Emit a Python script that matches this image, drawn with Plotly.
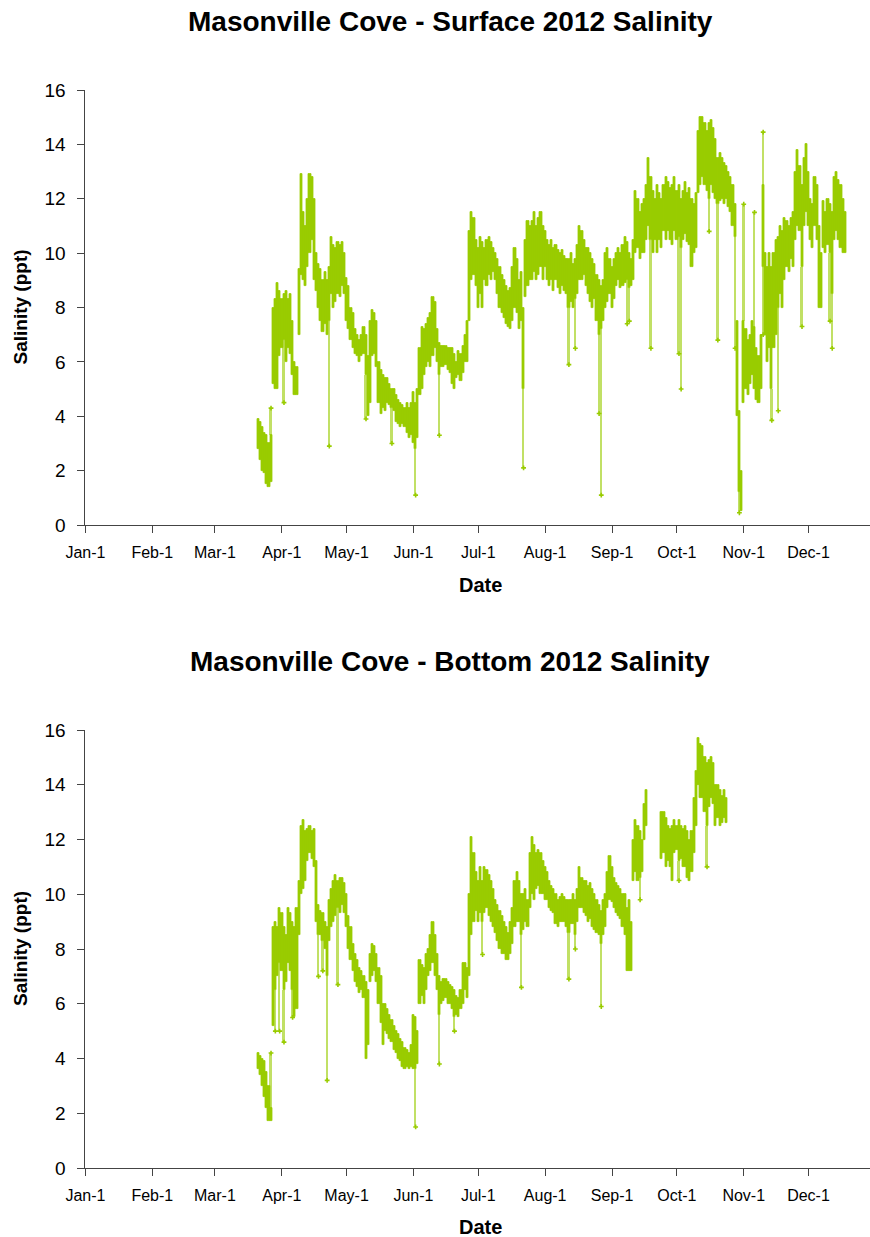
import pandas as pd
import plotly.graph_objects as go

GREEN = "#99CC00"
DAY_MS = 86400000
FONT = "Liberation Sans, Arial, sans-serif"

# ---- Surface sonde: daily band of 15-minute readings (ppt), from 2012-03-21
surface_start = "2012-03-21"
surface_low = [
    2.8, 2.4, 2.0, 1.9, 1.5, 1.4, 1.6, 5.2, 5.0, 5.0, 6.2,          # Mar 21-31
    6.5, 6.8, 6.0, 6.5, 6.3, 5.5, 4.8, 4.8, 7.0, 9.2,               # Apr 1-10
    9.0, 8.8, 9.5, 10.0, 10.5, 9.0, 8.6, 8.0, 7.5, 7.1,             # Apr 11-20
    7.4, 7.0, 7.5, 8.5, 8.0, 8.2, 8.5, 8.4, 8.8, 8.5, 7.5,          # Apr 21-May 1
    7.2, 6.8, 6.5, 6.3, 6.2, 6.0, 6.2, 6.3, 5.5, 4.0,               # May 2-11
    4.5, 6.2, 6.3, 5.8, 4.5, 4.1, 4.3, 4.2, 4.5, 4.4,               # May 12-21
    4.3, 4.2, 3.8, 3.7, 3.6, 3.7, 3.6, 3.4, 3.2, 3.3,               # May 22-31
    3.0, 2.8, 3.2, 4.8, 5.0, 5.5, 5.8, 6.0, 5.8, 6.2,               # Jun 1-10
    6.5, 6.0, 5.5, 5.8, 5.8, 5.9, 5.7, 5.6, 5.2, 5.0,               # Jun 11-20
    5.4, 5.5, 5.3, 5.6, 6.0, 6.0, 7.5, 9.0, 9.2, 8.8,               # Jun 21-30
    8.0, 8.5, 8.0, 9.0, 8.8, 9.2, 9.0, 9.3, 9.0, 8.5,               # Jul 1-10
    8.0, 7.8, 7.6, 7.4, 7.3, 7.2, 7.5, 8.0, 7.8, 7.2,               # Jul 11-20
    7.5, 5.0, 8.4, 8.8, 9.0, 9.0, 9.3, 9.0, 9.2, 9.5, 9.0,          # Jul 21-31
    9.5, 9.0, 8.8, 9.0, 8.6, 9.0, 8.7, 8.5, 8.8, 8.6,               # Aug 1-10
    8.5, 8.0, 8.2, 8.0, 8.3, 8.5, 9.0, 9.0, 9.2, 8.8,               # Aug 11-20
    8.5, 8.2, 8.0, 8.3, 7.5, 7.0, 7.2, 7.5, 8.0, 8.2, 8.5,          # Aug 21-31
    8.0, 8.3, 8.8, 9.0, 8.7, 8.8, 8.9, 9.0, 8.7, 8.8,               # Sep 1-10
    9.0, 10.0, 10.2, 9.8, 10.0, 10.0, 10.5, 11.0, 10.5, 10.0,       # Sep 11-20
    10.5, 10.0, 10.5, 10.2, 10.8, 10.5, 10.8, 10.5, 10.3, 10.8,     # Sep 21-30
    10.5, 10.6, 10.2, 10.5, 10.7, 10.4, 10.3, 9.5, 10.0, 10.2,      # Oct 1-10
    12.2, 12.5, 12.8, 12.5, 12.3, 12.0, 12.5, 12.2, 12.0, 11.8,     # Oct 11-20
    11.9, 12.0, 11.8, 12.0, 11.7, 11.5, 11.0, 10.6, 4.0, 1.2, 0.5,  # Oct 21-31
    4.5, 5.0, 4.8, 5.2, 5.5, 5.0, 4.6, 4.5, 5.0, 9.5,               # Nov 1-10
    7.0, 6.0, 6.5, 5.0, 6.5, 7.0, 8.0, 8.5, 8.0, 9.0,               # Nov 11-20
    9.5, 9.3, 9.8, 9.5, 10.5, 11.0, 10.8, 9.5, 11.0, 11.5,          # Nov 21-30
    11.0, 10.5, 10.2, 11.0, 10.5, 8.0, 8.0, 10.2, 10.0, 10.3,       # Dec 1-10
    10.0, 8.5, 10.5, 10.8, 10.5, 10.2, 10.0, 10.0,                  # Dec 11-18
]
surface_high = [
    3.9, 3.8, 3.6, 3.4, 3.3, 3.0, 3.3, 8.0, 8.3, 8.9, 8.6,
    8.3, 8.5, 8.6, 8.3, 8.5, 7.5, 6.0, 5.8, 9.4, 12.9,
    11.5, 11.0, 12.0, 12.9, 12.8, 12.0, 10.0, 9.6, 9.4, 9.0,
    9.3, 9.0, 9.5, 10.6, 10.3, 10.2, 10.4, 10.3, 10.4, 10.0, 9.1,
    8.8, 8.0, 7.8, 7.2, 7.0, 6.8, 7.0, 7.3, 7.0, 6.2,
    7.5, 7.9, 7.8, 7.5, 6.0, 5.7, 5.5, 5.4, 5.4, 5.2,
    5.0, 5.0, 4.8, 4.6, 4.5, 4.4, 4.3, 4.5, 4.3, 4.5,
    4.9, 4.5, 5.0, 6.5, 7.3, 7.2, 7.4, 7.6, 7.8, 8.4,
    8.2, 7.2, 6.7, 6.6, 6.6, 6.6, 6.5, 6.5, 6.5, 6.3,
    6.0, 6.4, 6.3, 6.6, 7.0, 7.5, 10.8, 11.5, 11.3, 10.5,
    10.2, 10.6, 10.4, 10.2, 10.5, 10.6, 10.4, 10.2, 10.0, 9.8,
    9.5, 9.2, 9.0, 8.8, 8.6, 8.7, 9.5, 10.2, 9.8, 9.0,
    9.3, 8.0, 10.5, 11.2, 11.0, 11.2, 11.5, 11.0, 11.3, 11.5, 11.0,
    10.8, 10.5, 10.3, 10.5, 10.2, 10.3, 10.1, 10.0, 10.1, 9.9,
    9.8, 9.8, 10.0, 9.6, 9.8, 10.3, 11.0, 10.8, 10.5, 10.2,
    10.2, 10.0, 9.8, 9.6, 9.2, 9.0, 8.8, 9.0, 10.0, 10.2, 9.8,
    9.5, 9.8, 10.0, 10.2, 10.0, 10.3, 10.6, 10.4, 10.0, 9.8,
    10.5, 12.3, 12.0, 11.5, 11.8, 12.0, 12.5, 13.5, 12.8, 12.3,
    12.0, 12.5, 12.2, 12.0, 12.5, 12.8, 12.6, 12.4, 12.5, 12.8,
    12.3, 12.5, 12.0, 12.3, 12.6, 12.2, 12.4, 12.0, 11.8, 12.2,
    14.5, 15.0, 15.0, 14.8, 14.5, 14.8, 14.9, 14.6, 14.2, 13.5,
    13.7, 13.5, 13.3, 13.2, 13.0, 12.8, 12.5, 11.8, 7.5, 4.2, 2.0,
    7.5, 7.2, 6.8, 7.0, 7.5, 7.3, 6.5, 6.2, 7.0, 12.5,
    10.0, 9.5, 10.0, 9.5, 10.0, 10.5, 10.6, 11.0, 10.8, 11.3,
    11.2, 11.0, 11.3, 11.5, 13.0, 13.8, 13.2, 12.5, 13.5, 14.0,
    13.0, 12.0, 11.8, 12.8, 12.5, 11.0, 10.0, 11.9, 11.5, 12.0,
    11.8, 11.5, 12.8, 13.0, 12.7, 12.5, 12.0, 11.5,
]
# isolated readings that fall well below / above the day's band
surface_dip_dates = [
    "2012-04-02", "2012-04-23", "2012-05-10", "2012-05-22", "2012-06-02",
    "2012-06-13", "2012-07-22", "2012-08-12", "2012-08-15", "2012-08-26",
    "2012-08-27", "2012-09-08", "2012-09-09", "2012-09-19", "2012-10-02",
    "2012-10-03", "2012-10-16", "2012-10-20", "2012-10-28", "2012-10-30",
    "2012-11-10", "2012-11-14", "2012-11-17", "2012-11-28", "2012-12-11",
    "2012-12-12",
]
surface_dip_values = [
    4.5, 2.9, 3.9, 3.0, 1.1,
    3.3, 2.1, 5.9, 6.5, 4.1,
    1.1, 7.4, 7.5, 6.5, 6.3,
    5.0, 10.8, 6.8, 6.5, 0.45,
    7.0, 3.85, 4.2, 7.3, 7.5,
    6.5,
]
surface_peak_dates = ["2012-03-27", "2012-11-01", "2012-11-06", "2012-11-10"]
surface_peak_values = [4.3, 11.8, 11.5, 14.45]

# ---- Bottom sonde: daily band of readings (ppt), from 2012-03-21 (None = no data)
bottom_start = "2012-03-21"
bottom_low = [
    3.6, 3.4, 3.0, 2.6, 2.2, 1.7, 1.7, 5.2, 6.5, 7.0, 7.5,          # Mar 21-31
    7.2, 6.5, 6.8, 7.5, 7.2, 6.5, 5.5, 5.8, 8.5, 10.0,              # Apr 1-10
    10.2, 10.5, 11.2, 11.5, 11.3, 11.0, 9.0, 8.5, 8.5, 8.3,         # Apr 11-20
    8.0, 7.0, 8.3, 8.8, 9.0, 9.2, 9.5, 9.3, 9.6, 9.3, 8.8,          # Apr 21-May 1
    8.0, 7.6, 7.2, 6.8, 6.6, 6.4, 6.5, 6.2, 4.0, 4.5,               # May 2-11
    6.8, 7.0, 7.2, 6.8, 6.0, 5.3, 4.5, 5.0, 4.9, 4.7,               # May 12-21
    4.6, 4.3, 4.2, 4.0, 3.9, 3.7, 3.6, 3.7, 3.6, 3.7,               # May 22-31
    3.6, 3.6, 3.8, 6.0, 6.3, 6.0, 6.5, 7.0, 7.2, 7.5,               # Jun 1-10
    7.0, 6.5, 5.6, 6.0, 6.1, 6.2, 6.0, 6.0, 5.8, 5.5,               # Jun 11-20
    5.6, 5.5, 5.8, 6.0, 6.5, 6.2, 7.0, 8.5, 9.0, 9.4,               # Jun 21-30
    9.0, 9.3, 9.0, 9.3, 9.5, 9.2, 9.0, 8.8, 8.6, 8.3,               # Jul 1-10
    8.0, 7.8, 7.8, 7.6, 7.6, 7.8, 8.2, 8.8, 9.0, 9.0,               # Jul 11-20
    8.5, 8.7, 9.0, 8.8, 9.5, 10.0, 9.8, 10.2, 10.3, 10.0, 10.0,     # Jul 21-31
    9.8, 9.8, 9.5, 9.4, 9.3, 8.9, 8.8, 9.0, 9.0, 9.0,               # Aug 1-10
    8.8, 8.6, 8.9, 8.9, 8.5, 9.0, 9.5, 9.5, 9.3, 9.2,               # Aug 11-20
    9.0, 9.1, 8.8, 8.7, 8.6, 8.5, 8.2, 8.5, 8.8, 9.5, 9.8,          # Aug 21-31
    9.7, 9.5, 9.3, 9.2, 9.1, 8.8, 8.5, 7.2, 7.2, 7.2,               # Sep 1-10
    10.5, 10.8, 10.5, 10.6, 10.8, 12.0, 12.5, None, None, None,     # Sep 11-20
    None, None, None, 11.3, 11.5, 11.0, 11.2, 11.0, 10.5, 11.5,     # Sep 21-30
    11.6, 11.2, 11.3, 11.0, 11.0, 10.6, 10.5, 10.8, 11.5, 12.5,     # Oct 1-10
    14.0, 13.5, 13.5, 13.0, 12.5, 13.2, 13.5, 13.3, 12.5, 12.8,     # Oct 11-20
    12.5, 12.6, 12.8, 12.6,                                         # Oct 21-24
]
bottom_high = [
    4.2, 4.1, 4.0, 3.9, 3.5, 3.0, 2.2, 8.8, 9.0, 8.8, 9.5,
    9.3, 8.8, 8.5, 9.5, 9.3, 9.0, 8.8, 9.5, 10.5, 12.5,
    12.7, 12.3, 12.4, 12.5, 12.3, 12.4, 11.2, 9.6, 9.4, 9.3,
    9.0, 8.8, 9.8, 10.2, 10.5, 10.7, 10.5, 10.6, 10.6, 10.4, 10.0,
    9.2, 8.8, 8.2, 7.8, 7.6, 7.3, 7.2, 7.0, 6.8, 6.5,
    7.8, 8.2, 8.1, 7.8, 7.3, 7.0, 6.0, 6.0, 5.8, 5.6,
    5.4, 5.2, 5.0, 4.9, 4.7, 4.6, 4.4, 4.3, 4.2, 4.5,
    5.6, 5.5, 5.0, 7.6, 7.4, 7.3, 7.8, 8.0, 8.5, 9.0,
    8.5, 7.8, 7.0, 6.8, 6.9, 6.9, 6.8, 6.7, 6.6, 6.5,
    6.3, 6.2, 6.5, 7.5, 7.5, 7.3, 10.0, 12.1, 11.5, 10.8,
    10.5, 11.0, 10.5, 11.0, 10.9, 10.7, 10.5, 10.2, 9.8, 9.6,
    9.4, 9.2, 9.0, 8.8, 8.6, 9.0, 9.5, 10.5, 10.8, 10.5,
    10.0, 10.0, 10.2, 9.8, 11.5, 12.1, 11.8, 11.5, 11.6, 11.5, 11.2,
    11.0, 10.8, 10.5, 10.3, 10.2, 10.0, 9.8, 9.9, 10.0, 9.9,
    9.8, 9.8, 9.8, 10.0, 9.8, 10.2, 11.0, 10.6, 10.5, 10.5,
    10.3, 10.4, 10.2, 10.0, 9.8, 9.6, 9.4, 9.8, 10.0, 10.8, 11.4,
    11.0, 10.6, 10.4, 10.3, 10.2, 10.0, 10.0, 9.5, 9.8, 9.0,
    12.0, 12.7, 12.5, 12.3, 12.0, 13.3, 13.8, None, None, None,
    None, None, None, 13.0, 13.0, 12.8, 12.5, 12.4, 12.5, 12.7,
    12.5, 12.7, 12.5, 12.4, 12.5, 12.3, 12.0, 12.3, 13.5, 14.5,
    15.7, 15.5, 15.4, 15.0, 14.8, 14.9, 15.0, 14.8, 14.0, 14.0,
    13.8, 13.6, 13.8, 13.5,
]
bottom_dip_dates = [
    "2012-03-29", "2012-03-31", "2012-04-02", "2012-04-06", "2012-04-18",
    "2012-04-20", "2012-04-22", "2012-04-27", "2012-06-02", "2012-06-13",
    "2012-06-20", "2012-07-03", "2012-07-21", "2012-08-12", "2012-08-15",
    "2012-08-27", "2012-09-14", "2012-10-02", "2012-10-15",
]
bottom_dip_values = [
    5.0, 5.0, 4.6, 5.5, 7.0,
    7.2, 3.2, 6.7, 1.5, 3.8,
    5.0, 7.8, 6.6, 6.9, 8.0,
    5.9, 9.8, 10.5, 11.0,
]
bottom_peak_dates = ["2012-03-27"]
bottom_peak_values = [4.2]

# ---- axis labelling
month_ticks = ["2012-01-01", "2012-02-01", "2012-03-01", "2012-04-01",
               "2012-05-01", "2012-06-01", "2012-07-01", "2012-08-01",
               "2012-09-01", "2012-10-01", "2012-11-01", "2012-12-01"]
month_labels = ["Jan-1", "Feb-1", "Mar-1", "Apr-1", "May-1", "Jun-1",
                "Jul-1", "Aug-1", "Sep-1", "Oct-1", "Nov-1", "Dec-1"]
salinity_ticks = [0, 2, 4, 6, 8, 10, 12, 14, 16]
titles = ["Masonville Cove - Surface 2012 Salinity",
          "Masonville Cove - Bottom 2012 Salinity"]

W, H = 870, 1237


def panel_traces(start, low, high, dip_dates, dip_values, peak_dates, peak_values, xa, ya):
    days = pd.date_range(start, periods=len(low), freq="D")
    span = [None if (lo is None or hi is None) else hi - lo for lo, hi in zip(low, high)]
    low_at = {d.strftime("%Y-%m-%d"): lo for d, lo in zip(days, low)}
    high_at = {d.strftime("%Y-%m-%d"): hi for d, hi in zip(days, high)}
    # dense daily band of readings
    traces = [go.Bar(x=days, base=low, y=span, width=DAY_MS,
                     marker=dict(color=GREEN, line=dict(width=0.8, color=GREEN)),
                     xaxis=xa, yaxis=ya, hoverinfo="skip")]
    # sparse excursions: light streaks between the band and the extreme reading
    traces.append(go.Bar(x=pd.to_datetime(dip_dates), base=dip_values,
                         y=[low_at[d] - v for d, v in zip(dip_dates, dip_values)],
                         width=DAY_MS * 1.1, opacity=0.6,
                         marker=dict(color=GREEN, line=dict(width=0)),
                         xaxis=xa, yaxis=ya, hoverinfo="skip"))
    traces.append(go.Bar(x=pd.to_datetime(peak_dates), base=[high_at[d] for d in peak_dates],
                         y=[v - high_at[d] for d, v in zip(peak_dates, peak_values)],
                         width=DAY_MS * 1.1, opacity=0.6,
                         marker=dict(color=GREEN, line=dict(width=0)),
                         xaxis=xa, yaxis=ya, hoverinfo="skip"))
    traces.append(go.Scatter(x=pd.to_datetime(dip_dates + peak_dates),
                             y=dip_values + peak_values, mode="markers",
                             marker=dict(symbol="cross", size=4, color=GREEN),
                             xaxis=xa, yaxis=ya, hoverinfo="skip"))
    return traces


fig = go.Figure()
for tr in panel_traces(surface_start, surface_low, surface_high,
                       surface_dip_dates, surface_dip_values,
                       surface_peak_dates, surface_peak_values, "x", "y"):
    fig.add_trace(tr)
for tr in panel_traces(bottom_start, bottom_low, bottom_high,
                       bottom_dip_dates, bottom_dip_values,
                       bottom_peak_dates, bottom_peak_values, "x2", "y2"):
    fig.add_trace(tr)

x_left = 85.4 / W
panels = [(90, 525), (730, 1168)]   # pixel top/bottom of each plot area


def xaxis_style(anchor):
    return dict(domain=[x_left, 1.0], anchor=anchor, type="date", automargin=False,
                range=["2012-01-01", "2012-12-29 12:00"],
                tickmode="array", tickvals=month_ticks, ticktext=month_labels,
                ticks="outside", ticklen=7, tickwidth=1, tickcolor="#444",
                showline=True, linecolor="#444", linewidth=1,
                showgrid=False, zeroline=False, ticklabelstandoff=6,
                tickfont=dict(family=FONT, size=16, color="#000"))


def yaxis_style(anchor, top, bottom):
    return dict(domain=[1 - bottom / H, 1 - top / H], anchor=anchor, automargin=False,
                range=[0, 16], tickmode="array", tickvals=salinity_ticks,
                ticks="outside", ticklen=7, tickwidth=1, tickcolor="#444",
                showline=True, linecolor="#444", linewidth=1,
                showgrid=False, zeroline=False, ticklabelstandoff=8,
                tickfont=dict(family=FONT, size=19, color="#000"))


annotations = []
for i, (top, bottom) in enumerate(panels):
    title_y = [21, 661][i]
    date_y = [585, 1227][i]
    annotations.append(dict(text="<b>%s</b>" % titles[i], x=450 / W, y=1 - title_y / H,
                            xref="paper", yref="paper", showarrow=False,
                            xanchor="center", yanchor="middle",
                            font=dict(family=FONT, size=28, color="#000")))
    annotations.append(dict(text="<b>Date</b>", x=480 / W, y=1 - date_y / H,
                            xref="paper", yref="paper", showarrow=False,
                            xanchor="center", yanchor="middle",
                            font=dict(family=FONT, size=20, color="#000")))
    annotations.append(dict(text="<b>Salinity (ppt)</b>", x=20 / W,
                            y=1 - (top + bottom) / 2 / H, textangle=-90,
                            xref="paper", yref="paper", showarrow=False,
                            xanchor="center", yanchor="middle",
                            font=dict(family=FONT, size=19, color="#000")))

fig.update_layout(
    width=W, height=H, margin=dict(l=0, r=0, t=0, b=0, autoexpand=False),
    paper_bgcolor="white", plot_bgcolor="white",
    showlegend=False, barmode="overlay", bargap=0,
    xaxis=xaxis_style("y"), yaxis=yaxis_style("x", *panels[0]),
    xaxis2=xaxis_style("y2"), yaxis2=yaxis_style("x2", *panels[1]),
    annotations=annotations,
)

fig.write_html("out.html")
